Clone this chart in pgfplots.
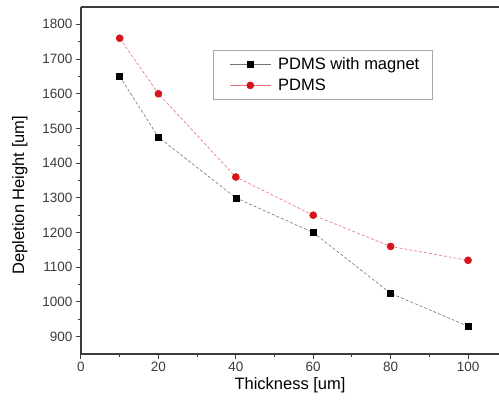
\documentclass[border=0pt]{standalone}
\usepackage{fontspec}
\setmainfont{Liberation Sans}
\usepackage{pgfplots}
\pgfplotsset{compat=1.18}
\usetikzlibrary{calc}
\definecolor{ptred}{RGB}{215,20,25}
\definecolor{axgray}{RGB}{60,60,60}

\begin{document}
\begin{tikzpicture}
\begin{axis}[
  scale only axis, width=418pt, height=347pt,
  xmin=0, xmax=108, ymin=850, ymax=1850,
  axis x line*=box, axis y line*=left,
  xtick={0,20,...,100}, minor xtick={10,30,...,90},
  ytick={900,1000,...,1800}, minor ytick={950,1050,...,1750},
  xtick pos=left, ytick pos=left,
  tick align=outside,
  major tick length=5pt, minor tick length=3pt,
  axis line style={line width=1.2pt, axgray},
  tick style={line width=1pt, axgray},
  /pgf/number format/assume math mode=true,
  /pgf/number format/1000 sep={},
  tick label style={font=\fontsize{13.5}{16}\selectfont, text=axgray},
  xlabel={Thickness [um]}, ylabel={Depletion Height [um]},
  x label style={at={(axis description cs:0.5,0)}, anchor=center, yshift=-31pt, font=\fontsize{16.5}{20}\selectfont},
  y label style={at={(axis description cs:-0.146,0.458)}, anchor=center, font=\fontsize{16.5}{20}\selectfont},
  legend style={at={(axis description cs:0.316,0.876)}, anchor=north west,
    draw=black!35, line width=0.8pt, font=\fontsize{16.5}{20}\selectfont,
    inner xsep=11pt, inner ysep=5pt, row sep=4pt},
  legend cell align=left,
  legend image code/.code={\path (0pt,0pt) (51pt,0pt);\draw[mark repeat=2,mark phase=2,#1,solid] plot coordinates {(5pt,0pt) (25.5pt,0pt) (46pt,0pt)};},
]
\addplot[black!55, line width=0.6pt, densely dashed, mark=square*, mark size=3pt,
  mark options={solid, fill=black, draw=black}] coordinates
  {(10,1650)(20,1475)(40,1300)(60,1200)(80,1025)(100,930)};
\addlegendentry{PDMS with magnet}
\addplot[ptred!60, line width=0.6pt, densely dashed, mark=*, mark size=3.5pt,
  mark options={solid, fill=ptred, draw=ptred}] coordinates
  {(10,1760)(20,1600)(40,1360)(60,1250)(80,1160)(100,1120)};
\addlegendentry{PDMS}
\coordinate (sw) at (rel axis cs:0,0);
\coordinate (ne) at (rel axis cs:1,1);
\end{axis}
\pgfresetboundingbox
\path ($(sw)+(-81pt,-58pt)$) rectangle ($(ne)+(0pt,7pt)$);
\end{tikzpicture}
\end{document}
